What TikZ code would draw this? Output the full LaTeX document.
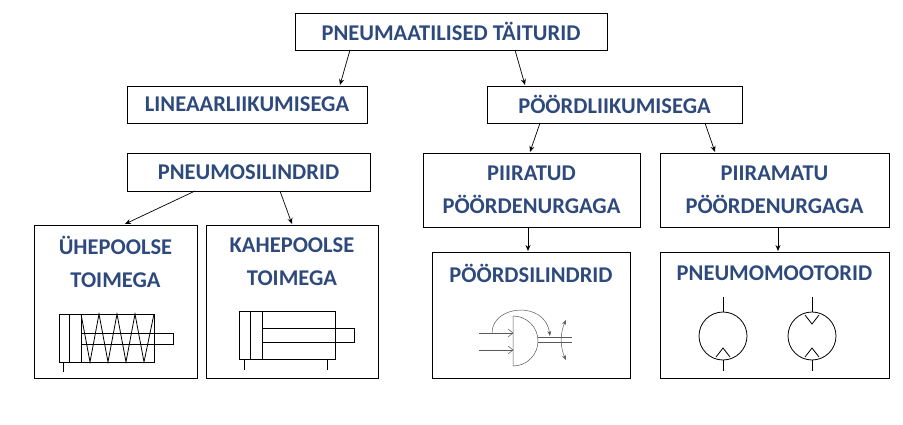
\documentclass[tikz,border=0pt]{standalone}
\usepackage{fontspec}
\setmainfont{Carlito}
\usetikzlibrary{arrows.meta}
\definecolor{titleblue}{HTML}{2E4A7D}
\begin{document}
\begin{tikzpicture}[x=1pt,y=-1pt, thick, black,
    box/.style={draw,line width=0.8pt,align=center,font=\bfseries\fontsize{22.5}{33}\selectfont,text=titleblue},
    link/.style={-{Stealth[length=6pt,width=5pt]},line width=0.7pt},
    sym/.style={line width=0.8pt}]

    \useasboundingbox (0,0) rectangle (903,425);

    %boxes
    \draw[box] (295,13) rectangle (607,50) node[midway] (top) {PNEUMAATILISED TÄITURID};
    \draw[box] (127,86) rectangle (367,123) node[midway] (lin) {LINEAARLIIKUMISEGA};
    \draw[box] (487,86) rectangle (742,123) node[midway] (rot) {PÖÖRDLIIKUMISEGA};
    \draw[box] (127,153) rectangle (370,191) node[midway] (cyl) {PNEUMOSILINDRID};
    \draw[box] (423,153) rectangle (640,227) node[midway] (lim) {PIIRATUD\\PÖÖRDENURGAGA};
    \draw[box] (660,153) rectangle (889,227) node[midway] (unl) {PIIRAMATU\\PÖÖRDENURGAGA};
    \draw[box] (34,225) rectangle (197,378);
    \node[box,draw=none] (single) at (115.5,262) {ÜHEPOOLSE\\TOIMEGA};
    \draw[box] (206,225) rectangle (378,378);
    \node[box,draw=none] (double) at (292,262) {KAHEPOOLSE\\TOIMEGA};
    \draw[box] (432,252) rectangle (630,378);
    \node[box,draw=none] (rcyl) at (531,273) {PÖÖRDSILINDRID};
    \draw[box] (660,252) rectangle (889,378);
    \node[box,draw=none] (motor) at (774.5,273) {PNEUMOMOOTORID};

    %arrows
    \coordinate (a1) at (350,50);  \coordinate (b1) at (340,85);
    \coordinate (a2) at (515,50);  \coordinate (b2) at (525,85);
    \coordinate (a3) at (540,123); \coordinate (b3) at (530,152);
    \coordinate (a4) at (705,123); \coordinate (b4) at (715,152);
    \coordinate (a5) at (195,191); \coordinate (b5) at (125,224);
    \coordinate (a6) at (280,191); \coordinate (b6) at (292,224);
    \coordinate (a7) at (528,227); \coordinate (b7) at (528,251);
    \coordinate (a8) at (778,227); \coordinate (b8) at (778,251);
    \foreach \i in {1,...,8}
    \draw[link] (a\i) -- (b\i);

    %single acting cylinder
    \draw[sym] (59,314) rectangle (154,362);
    \draw[sym] (69,314) -- (69,362) (81,314) -- (81,362);
    \draw[sym] (81,333) rectangle (173,344);
    \draw[sym] (81,314) -- (90,362) -- (99,314) -- (108,362) -- (117,314)
        -- (126,362) -- (135,314) -- (144,362) -- (154,314);
    \draw[sym] (63,362) -- (63,372);

    %double acting cylinder
    \draw[sym] (239,311) rectangle (335,359);
    \draw[sym] (250,311) -- (250,359) (262,311) -- (262,359);
    \draw[sym] (262,328) rectangle (354,342);
    \draw[sym] (244,359) -- (244,370) (327,359) -- (327,370);

    %rotary cylinder
    \begin{scope}[gray!70!black, line width=0.5pt]
    \draw (513,316) -- (513,366) arc[start angle=90,end angle=-90,radius=25];
    \draw (538,337) -- (572,337) (538,342) -- (572,342);
    \draw (479,333) -- (513,333) (479,350) -- (513,350);
    \draw (508,329) -- (513,333) -- (508,337) (508,346) -- (513,350) -- (508,354);
    \draw[-{Stealth[length=5pt]}] (492,333) .. controls (492,305) and (545,300) .. (550,336);
    \draw[{Stealth[length=5pt]}-{Stealth[length=5pt]}] (566,320) .. controls (560,333) and (560,347) .. (566,360);
    \end{scope}

    %motors
    \draw[sym] (723,336) circle[radius=24];
    \draw[sym] (723,297) -- (723,312) (723,360) -- (723,371);
    \draw[sym] (716,357) -- (723,348) -- (730,357);
    \draw[sym] (812,336) circle[radius=24];
    \draw[sym] (812,297) -- (812,312) (812,360) -- (812,371);
    \draw[sym] (805,357) -- (812,348) -- (819,357);
    \draw[sym] (805,315) -- (812,324) -- (819,315);

\end{tikzpicture}
\end{document}
